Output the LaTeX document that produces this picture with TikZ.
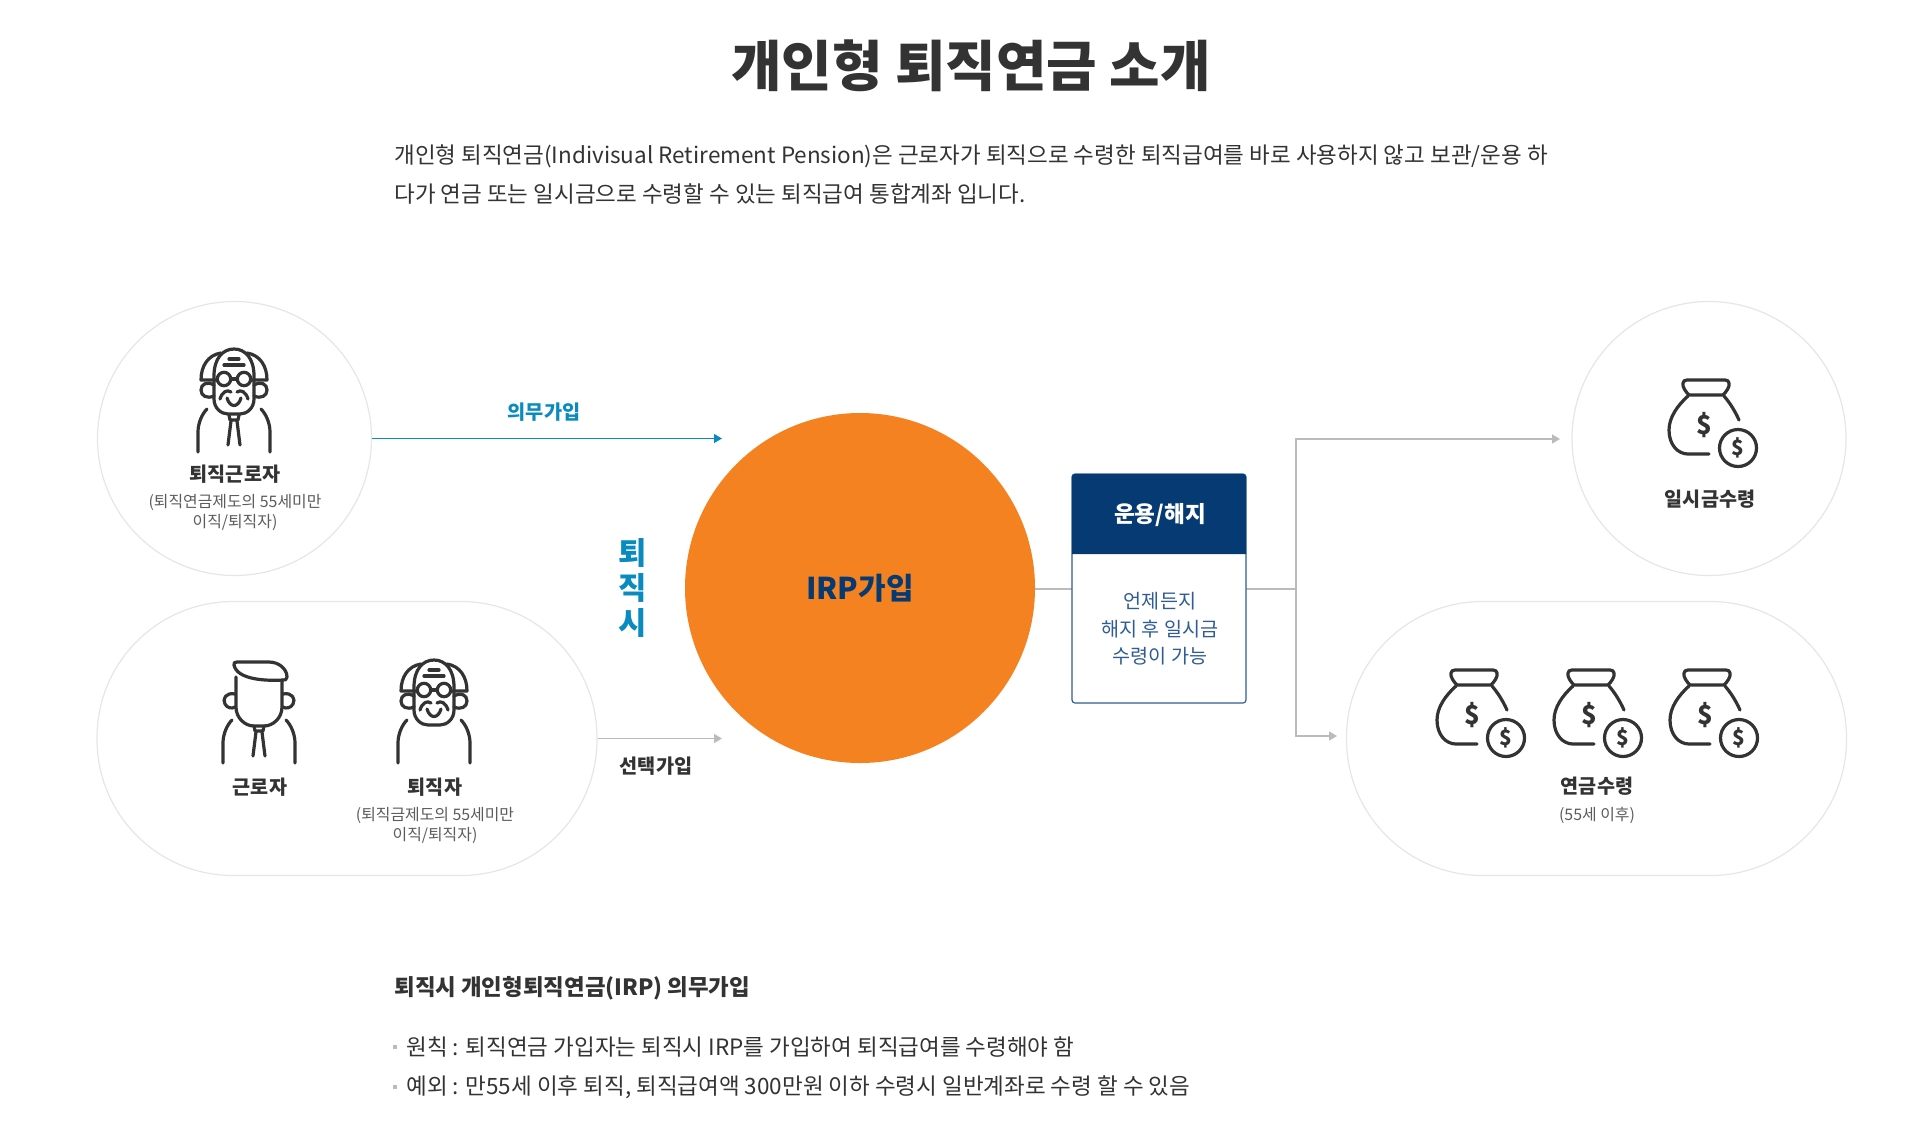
\documentclass[tikz,border=0pt]{standalone}
\usepackage{fontspec}
\setmainfont{Noto Sans CJK KR}
\usetikzlibrary{arrows.meta}
\definecolor{ink}{HTML}{333333}
\definecolor{ringgray}{HTML}{E6E6E6}
\definecolor{linegray}{HTML}{BBBBBB}
\definecolor{irporange}{HTML}{F58220}
\definecolor{navy}{HTML}{063A73}
\definecolor{boxblue}{HTML}{2F5C94}
\definecolor{skyblue}{HTML}{0A8BBF}
\newcommand{\px}[1]{\fontsize{#1}{#1}\selectfont}
\begin{document}
\begin{tikzpicture}[x=0.5pt, y=-0.5pt,
    ring/.style={draw=ringgray, line width=0.6pt, fill=white, circle, minimum size=137pt, inner sep=0pt},
    pill/.style={draw=ringgray, line width=0.6pt, fill=white, rounded corners=68pt, minimum width=250pt, minimum height=137pt, inner sep=0pt},
    lbl/.style={font=\px{9.8}\bfseries, text=ink, inner sep=0pt},
    sublbl/.style={font=\fontsize{7.95}{10}\selectfont, text=ink!80, align=center, inner sep=0pt},
    para/.style={font=\px{11.25}, text=ink, anchor=west, inner sep=0pt},
    feed/.style={draw=linegray, line width=0.7pt},
    feedarrow/.style={feed, -{Triangle[length=4pt, width=4.5pt]}},
    icon/.style={draw=ink, line width=1.6pt, line cap=round, line join=round},
    oldhead/.pic={
      \draw[icon] (-20,-76) .. controls (-20,-94) and (-11,-103) .. (0,-103) .. controls (11,-103) and (20,-94) .. (20,-76)
        -- (20,-53) .. controls (20,-44) and (13,-38) .. (6,-38) -- (-6,-38) .. controls (-13,-38) and (-20,-44) .. (-20,-53) -- cycle;
      \foreach \s in {-1,1} {
        \draw[icon] (\s*13,-99) .. controls (\s*26,-97) and (\s*33,-86) .. (\s*33,-72) -- (\s*17,-72);
        \draw[icon] (\s*20,-67) .. controls (\s*27,-71) and (\s*33,-68) .. (\s*33,-62) .. controls (\s*33,-56) and (\s*27,-53) .. (\s*20,-56);
        \draw[icon, fill=white] (\s*10,-73) circle (6.7);
        \draw[icon] (\s*14,-53) .. controls (\s*12,-60) and (\s*7,-63) .. (\s*3,-60);
      }
      \draw[icon] (-3,-73) -- (3,-73) (-5,-93) -- (5,-93) (-10,-87) -- (10,-87);
      \draw[icon] (-7,-54) .. controls (-4,-44) and (4,-44) .. (7,-54);
    },
    youngface/.pic={
      \draw[icon] (-25,-98) .. controls (-26,-100) and (-24,-101) .. (-22,-101) -- (10,-101) .. controls (20,-101) and (28,-94) .. (28,-86)
        .. controls (28,-83) and (26,-83) .. (24,-83) .. controls (8,-82) and (-22,-83) .. (-25,-98) -- cycle;
      \draw[icon] (-23,-86) -- (-23,-56) .. controls (-23,-45) and (-14,-37) .. (-5,-37) -- (5,-37) .. controls (14,-37) and (23,-45) .. (23,-56) -- (23,-83);
      \foreach \s in {-1,1}
        \draw[icon] (\s*24,-69) .. controls (\s*33,-71) and (\s*37,-64) .. (\s*34,-59) .. controls (\s*32,-55) and (\s*27,-54) .. (\s*24,-56);
    },
    shoulders/.pic={
      \foreach \s in {-1,1}
        \draw[icon] (\s*27,-43) .. controls (\s*32,-38) and (\s*36,-29) .. (\s*36,-20) -- (\s*36,0);
    },
    necktie/.pic={
      \draw[icon] (-5,-37) -- (-4,-32) -- (4,-32) -- (5,-37);
      \draw[icon] (-3,-31) -- (-6,-7) (3,-31) -- (6,-7);
    },
    moneybag/.pic={
      \draw[icon] (-17,-32) .. controls (-20,-35) and (-24,-40) .. (-23,-44) .. controls (-23,-46) and (-21,-47) .. (-19,-47) -- (19,-47)
        .. controls (21,-47) and (23,-46) .. (23,-44) .. controls (24,-40) and (20,-35) .. (17,-32) -- cycle;
      \draw[icon] (-18,-31) .. controls (-28,-22) and (-37,-10) .. (-37,3) .. controls (-37,18) and (-28,27) .. (-18,27) -- (3,27);
      \draw[icon] (18,-31) .. controls (23,-25) and (28,-18) .. (33,-7);
      \draw[icon] (32,21) circle (18.5);
      \node[font=\px{13}\bfseries, text=ink, inner sep=0pt] at (-2,-2) {\$};
      \node[font=\px{10.5}\bfseries, text=ink, inner sep=0pt] at (32,21) {\$};
    },
  ]
    \useasboundingbox (0,0) rectangle (1931,1120);

    % heading
    \node[font=\px{27.45}\bfseries, text=ink, inner sep=0pt] (title) at (971,66) {개인형 퇴직연금 소개};
    \node[para] (intro1) at (394,156) {개인형 퇴직연금(Indivisual Retirement Pension)은 근로자가 퇴직으로 수령한 퇴직급여를 바로 사용하지 않고 보관/운용 하};
    \node[para] (intro2) at (394,194) {다가 연금 또는 일시금으로 수령할 수 있는 퇴직급여 통합계좌 입니다.};

    % groups
    \node[ring] (retiring) at (234.5,438.5) {};
    \node[pill] (joiners) at (347,738.5) {};
    \node[ring] (lump) at (1709,438.5) {};
    \node[pill] (pension) at (1596.5,738.5) {};
    \node[circle, fill=irporange, minimum size=175pt, inner sep=0pt, font=\px{15}\bfseries, text=navy] (irp) at (860,588) {IRP가입};

    % connectors
    \coordinate (splitpt) at (1296,589);
    \coordinate (lumpin) at (1560,439);
    \coordinate (pensionin) at (1337,736);
    \coordinate (irpa) at (722,438.5);
    \coordinate (irpb) at (722,738.5);
    \draw[draw=skyblue, line width=0.7pt, -{Triangle[length=4pt, width=4.5pt]}] (retiring.east) -- (irpa);
    \draw[feedarrow] (joiners.east) -- (irpb);
    \draw[feed] (irp.east |- splitpt) -- (splitpt);
    \draw[feedarrow] (splitpt) -- (splitpt |- lumpin) -- (lumpin);
    \draw[feedarrow] (splitpt) -- (splitpt |- pensionin) -- (pensionin);

    % manage box
    \node[draw=boxblue, line width=0.6pt, fill=white, rounded corners=1.5pt, minimum width=87pt, minimum height=114.5pt, inner sep=0pt] (manage) at (1159,588.5) {};
    \fill[navy] (1072,554) [rounded corners=1.5pt] -- (1072,474) -- (1246,474) [sharp corners] -- (1246,554) -- cycle;
    \node[font=\px{11.3}\bfseries, text=white, inner sep=0pt] (managehead) at (1160,515) {운용/해지};
    \node[font=\fontsize{9.8}{13.7}\selectfont, text=boxblue, align=center, inner sep=0pt] (managetext) at (1160,629) {언제든지\\해지 후 일시금\\수령이 가능};

    % side labels
    \node[font=\px{9.85}\bfseries, text=skyblue, inner sep=0pt] (mandatory) at (544,412) {의무가입};
    \node[font=\px{9.85}\bfseries, text=ink, inner sep=0pt] (optional) at (656,766) {선택가입};
    \node[font=\fontsize{15.4}{17.3}\bfseries\selectfont, text=skyblue, align=center, inner sep=0pt] (atretire) at (633,588) {퇴\\직\\시};

    % people
    \pic at (234,452) {oldhead};
    \pic at (234,452) {shoulders};
    \pic at (234,452) {necktie};
    \node[lbl] (retiringname) at (235,474) {퇴직근로자};
    \node[sublbl] (retiringsub) at (235,512) {(퇴직연금제도의 55세미만\\이직/퇴직자)};
    \pic at (259,763) {youngface};
    \pic at (259,763) {shoulders};
    \pic at (259,763) {necktie};
    \node[lbl] (workername) at (260,787) {근로자};
    \pic at (434,763) {oldhead};
    \pic at (434,763) {shoulders};
    \node[lbl] (leavername) at (435,787) {퇴직자};
    \node[sublbl] (leaversub) at (435,825) {(퇴직금제도의 55세미만\\이직/퇴직자)};

    % money
    \pic at (1706,427) {moneybag};
    \node[lbl] (lumpname) at (1710,499) {일시금수령};
    \pic at (1474,717) {moneybag};
    \pic at (1591,717) {moneybag};
    \pic at (1707,717) {moneybag};
    \node[lbl] (pensionname) at (1597,786) {연금수령};
    \node[sublbl] (pensionsub) at (1597,815) {(55세 이후)};

    % notes
    \node[para, font=\px{11.2}\bfseries] (notehead) at (394,988) {퇴직시 개인형퇴직연금(IRP) 의무가입};
    \node[fill=linegray, minimum size=2pt, inner sep=0pt] (dot1) at (395,1047) {};
    \node[para] (note1) at (406,1047) {원칙 : 퇴직연금 가입자는 퇴직시 IRP를 가입하여 퇴직급여를 수령해야 함};
    \node[fill=linegray, minimum size=2pt, inner sep=0pt] (dot2) at (395,1087) {};
    \node[para] (note2) at (406,1087) {예외 : 만55세 이후 퇴직, 퇴직급여액 300만원 이하 수령시 일반계좌로 수령 할 수 있음};
\end{tikzpicture}
\end{document}
